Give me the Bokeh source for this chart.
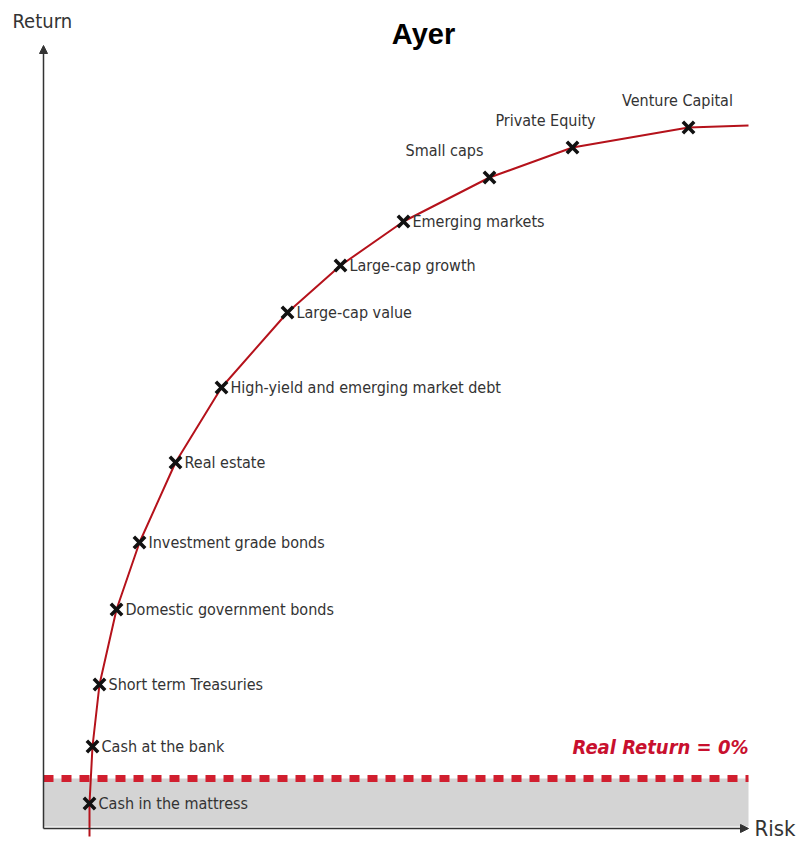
from bokeh.plotting import figure
from bokeh.models import Range1d, Arrow, NormalHead, ColumnDataSource
from bokeh.core.properties import value
from bokeh.embed import file_html
from bokeh.resources import INLINE

# Data (risk, return on an arbitrary scale)
assets = ["Cash in the mattress", "Cash at the bank", "Short term Treasuries",
          "Domestic government bonds", "Investment grade bonds", "Real estate",
          "High-yield and emerging market debt", "Large-cap value", "Large-cap growth",
          "Emerging markets", "Small caps", "Private Equity", "Venture Capital"]
risk = [89, 92, 99, 116, 139, 175, 221, 287, 340, 403, 489, 572, 688]
ret = [39, 96, 158, 233, 300, 380, 455, 530, 577, 621, 665, 695, 715]
curve_risk = [89] + risk + [748]
curve_ret = [6] + ret + [717]
real_return_level = 64
title_text = "Ayer"

W, H = 796, 842
p = figure(width=W, height=H, output_backend="svg", toolbar_location=None,
           x_range=Range1d(0, W), y_range=Range1d(0, H), min_border=0)
p.axis.visible = False
p.grid.visible = False
p.outline_line_color = None
p.background_fill_color = "white"

FONT = value("'Liberation Sans Narrow', 'DejaVu Sans Condensed', 'Open Sans'")

# grey band below real return 0%
p.quad(left=43, right=748, bottom=16, top=real_return_level, fill_color="#d4d4d4", line_color=None)
p.line([43, 748], [real_return_level, real_return_level], line_color="#d11f2f", line_width=7,
       line_dash="10 8")

# axes with arrows
p.add_layout(Arrow(end=NormalHead(size=8, fill_color="#333333", line_color="#333333"),
                   x_start=43, y_start=14, x_end=43, y_end=797,
                   line_color="#333333", line_width=1.5))
p.add_layout(Arrow(end=NormalHead(size=8, fill_color="#333333", line_color="#333333"),
                   x_start=43, y_start=14, x_end=748, y_end=14,
                   line_color="#333333", line_width=1.5))

# curve
p.line(curve_risk, curve_ret, line_color="#b5121b", line_width=2)

# markers
p.scatter(risk, ret, marker="x", size=16, line_width=3.6, line_color="#111111")

# labels
right_idx = list(range(10))
src_r = ColumnDataSource(dict(x=[risk[i] + 9 for i in right_idx],
                              y=[ret[i] for i in right_idx],
                              t=[assets[i] for i in right_idx]))
p.text(x="x", y="y", text="t", source=src_r, text_font=FONT, text_font_size="16px",
       text_baseline="middle", text_align="left", text_color="#333333")
top_idx = [10, 11, 12]
dx = [-45, -27, -11]
src_t = ColumnDataSource(dict(x=[risk[i] + d for i, d in zip(top_idx, dx)],
                              y=[ret[i] + 27 for i in top_idx],
                              t=[assets[i] for i in top_idx]))
p.text(x="x", y="y", text="t", source=src_t, text_font=FONT, text_font_size="16px",
       text_baseline="middle", text_align="center", text_color="#333333")

# axis names
p.text(x=[12], y=[822], text=["Return"], text_font=FONT, text_font_size="20px",
       text_baseline="middle", text_align="left", text_color="#333333")
p.text(x=[754], y=[14], text=["Risk"], text_font=FONT, text_font_size="22px",
       text_baseline="middle", text_align="left", text_color="#333333")

# real return label
p.text(x=[748], y=[96], text=["Real Return = 0%"], text_font=FONT, text_font_size="20px",
       text_font_style="bold italic", text_baseline="middle", text_align="right",
       text_color="#c8102e")

# title
p.text(x=[423], y=[809], text=[title_text], text_font=value("Liberation Sans"),
       text_font_size="29px", text_font_style="bold", text_baseline="middle",
       text_align="center", text_color="black")

open("out.html", "w").write(file_html(p, INLINE))
